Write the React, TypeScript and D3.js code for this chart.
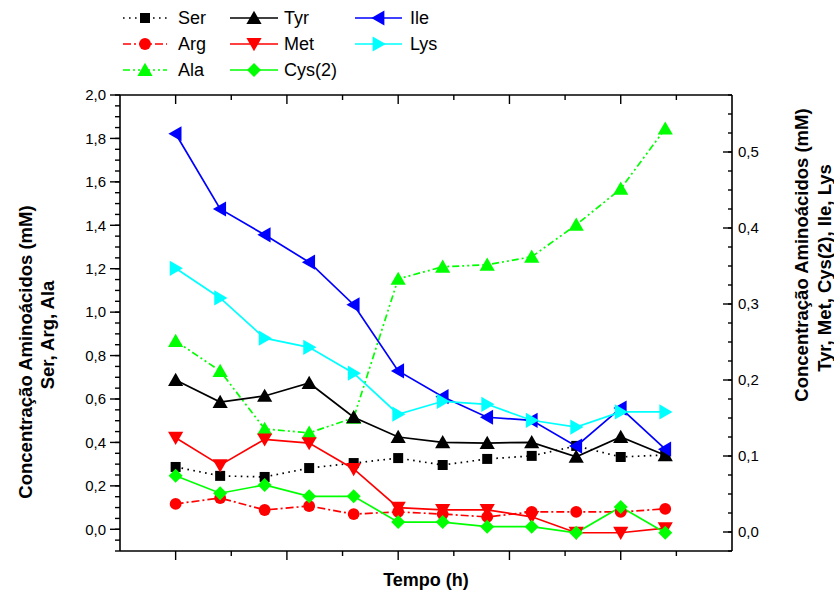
import React from "react";
import * as d3 from "d3";

const times = [0, 4, 8, 12, 16, 20, 24, 28, 32, 36, 40, 44];

// left axis series (Ser, Arg, Ala)
const ser = [0.287, 0.246, 0.241, 0.282, 0.305, 0.328, 0.296, 0.324, 0.338, 0.384, 0.333, 0.342];
const arg = [0.117, 0.144, 0.089, 0.107, 0.07, 0.08, 0.07, 0.057, 0.08, 0.08, 0.08, 0.094];
const ala = [0.867, 0.729, 0.462, 0.444, 0.513, 1.153, 1.209, 1.218, 1.255, 1.402, 1.568, 1.845];

// right axis series (Tyr, Met, Cys(2), Ile, Lys)
const tyr = [0.2, 0.171, 0.179, 0.196, 0.151, 0.125, 0.118, 0.117, 0.118, 0.099, 0.125, 0.101];
const met = [0.124, 0.088, 0.122, 0.117, 0.083, 0.032, 0.029, 0.029, 0.02, -0.001, -0.001, 0.005];
const cys = [0.074, 0.051, 0.062, 0.047, 0.047, 0.013, 0.013, 0.007, 0.007, -0.001, 0.033, -0.001];
const ile = [0.524, 0.425, 0.391, 0.355, 0.299, 0.212, 0.178, 0.151, 0.147, 0.113, 0.163, 0.109];
const lys = [0.347, 0.308, 0.255, 0.243, 0.209, 0.155, 0.172, 0.168, 0.147, 0.138, 0.158, 0.158];

const leftTicks = [0, 0.2, 0.4, 0.6, 0.8, 1.0, 1.2, 1.4, 1.6, 1.8, 2.0];
const rightTicks = [0, 0.1, 0.2, 0.3, 0.4, 0.5];
const xMajor = [0, 10, 20, 30, 40];
const xMinor = [5, 15, 25, 35, 45];

type Marker = "square" | "circle" | "up" | "down" | "left" | "right" | "diamond";
interface Series {
  name: string;
  values: number[];
  axis: "L" | "R";
  color: string;
  dash: string;
  marker: Marker;
}

const seriesList: Series[] = [
  { name: "Ser", values: ser, axis: "L", color: "#000000", dash: "1.6,4.4", marker: "square" },
  { name: "Arg", values: arg, axis: "L", color: "#ff0000", dash: "8,3,2,3", marker: "circle" },
  { name: "Ala", values: ala, axis: "L", color: "#00ff00", dash: "7,3,2,3,2,3", marker: "up" },
  { name: "Tyr", values: tyr, axis: "R", color: "#000000", dash: "", marker: "up" },
  { name: "Met", values: met, axis: "R", color: "#ff0000", dash: "", marker: "down" },
  { name: "Cys(2)", values: cys, axis: "R", color: "#00ff00", dash: "", marker: "diamond" },
  { name: "Ile", values: ile, axis: "R", color: "#0000ff", dash: "", marker: "left" },
  { name: "Lys", values: lys, axis: "R", color: "#00ffff", dash: "", marker: "right" },
];

const legendOrder = [
  ["Ser", "Tyr", "Ile"],
  ["Arg", "Met", "Lys"],
  ["Ala", "Cys(2)"],
];

const W = 834;
const H = 597;
const X0 = 120, X1 = 732, Y0 = 551, Y1 = 95;

const x = d3.scaleLinear().domain([-5, 50]).range([X0, X1]);
const yL = d3.scaleLinear().domain([-0.1, 2.0]).range([Y0, Y1]);
const yR = d3.scaleLinear().domain([-0.025, 0.575]).range([Y0, Y1]);

const fmt = (v: number, d: number) => v.toFixed(d).replace(".", ",");

function markerPath(m: Marker): string {
  const tri = d3.symbol().type(d3.symbolTriangle).size(100)() as string;
  switch (m) {
    case "square":
      return d3.symbol().type(d3.symbolSquare).size(100)() as string;
    case "circle":
      return d3.symbol().type(d3.symbolCircle).size(110)() as string;
    case "diamond": {
      const r = 7;
      return `M0,${-r}L${r},0L0,${r}L${-r},0Z`;
    }
    default:
      return tri;
  }
}
function markerRot(m: Marker): number {
  if (m === "down") return 180;
  if (m === "left") return -90;
  if (m === "right") return 90;
  return 0;
}

function MarkerShape({ m, cx, cy, color }: { m: Marker; cx: number; cy: number; color: string }) {
  const rot = markerRot(m);
  const dy = m === "up" ? 1.5 : m === "down" ? -1.5 : 0;
  const dx = m === "left" ? 1.5 : m === "right" ? -1.5 : 0;
  return (
    <path
      d={markerPath(m)}
      transform={`translate(${cx + dx},${cy + dy}) rotate(${rot})`}
      fill={color}
      stroke="none"
    />
  );
}

export default function App() {
  const font = "Arial, 'Liberation Sans', Helvetica, sans-serif";
  const lineGen = (s: Series) =>
    d3
      .line<number>()
      .x((_, i) => x(times[i]))
      .y((v) => (s.axis === "L" ? yL(v) : yR(v)))(s.values) as string;

  const leftMinor = d3.range(-0.1, 2.0001, 0.05).map((v) => +v.toFixed(3));
  const rightMinor = d3.range(-0.025, 0.5751, 0.025).map((v) => +v.toFixed(4));

  const legendCols = [
    { lx0: 123, lx1: 167, tx: 178 },
    { lx0: 230, lx1: 278, tx: 284 },
    { lx0: 355, lx1: 402, tx: 410 },
  ];
  const legendRows = [18, 44, 70];
  const titleSize = 18.5;

  return (
    <svg
      width={W}
      height={H}
      style={{ position: "absolute", left: 0, top: 0, background: "#fff" }}
      fontFamily={font}
    >
      <rect x={0} y={0} width={W} height={H} fill="#fff" />

      {/* series lines */}
      {seriesList.map((s) => (
        <path
          key={s.name + "-line"}
          d={lineGen(s)}
          fill="none"
          stroke={s.color}
          strokeWidth={1.7}
          strokeDasharray={s.dash || undefined}
        />
      ))}
      {seriesList.map((s) => (
        <g key={s.name + "-marks"}>
          {s.values.map((v, i) => (
            <MarkerShape
              key={i}
              m={s.marker}
              cx={x(times[i])}
              cy={s.axis === "L" ? yL(v) : yR(v)}
              color={s.color}
            />
          ))}
        </g>
      ))}

      {/* frame */}
      <line x1={X0} y1={Y1} x2={X1} y2={Y1} stroke="#000" strokeWidth={1.6} />
      <line x1={X0} y1={Y0} x2={X1} y2={Y0} stroke="#000" strokeWidth={1.6} />
      <line x1={X0} y1={Y1} x2={X0} y2={Y0} stroke="#000" strokeWidth={1.6} />
      <line x1={X1} y1={Y1} x2={X1} y2={Y0} stroke="#000" strokeWidth={1.6} />

      {/* bottom ticks (outward) and top ticks (inward) */}
      {xMajor.map((t) => (
        <g key={"xm" + t}>
          <line x1={x(t)} x2={x(t)} y1={Y0} y2={Y0 + 9} stroke="#000" strokeWidth={1.4} />
          <line x1={x(t)} x2={x(t)} y1={Y1} y2={Y1 + 9} stroke="#000" strokeWidth={1.4} />
        </g>
      ))}
      {xMinor.map((t) => (
        <g key={"xn" + t}>
          <line x1={x(t)} x2={x(t)} y1={Y0} y2={Y0 + 5} stroke="#000" strokeWidth={1.4} />
          <line x1={x(t)} x2={x(t)} y1={Y1} y2={Y1 + 5} stroke="#000" strokeWidth={1.4} />
        </g>
      ))}

      {/* left axis ticks */}
      {leftMinor.map((v) => (
        <line key={"lm" + v} x1={X0 - 5} x2={X0} y1={yL(v)} y2={yL(v)} stroke="#000" strokeWidth={1.4} />
      ))}
      {leftTicks.map((v) => (
        <g key={"lt" + v}>
          <line x1={X0 - 10} x2={X0} y1={yL(v)} y2={yL(v)} stroke="#000" strokeWidth={1.4} />
          <text x={X0 - 14} y={yL(v)} dy="0.35em" textAnchor="end" fontSize={15}>
            {fmt(v, 1)}
          </text>
        </g>
      ))}

      {/* right axis ticks (inward) */}
      {rightMinor.map((v) => (
        <line key={"rm" + v} x1={X1 - 4} x2={X1} y1={yR(v)} y2={yR(v)} stroke="#000" strokeWidth={1.4} />
      ))}
      {rightTicks.map((v) => (
        <g key={"rt" + v}>
          <line x1={X1 - 9} x2={X1} y1={yR(v)} y2={yR(v)} stroke="#000" strokeWidth={1.4} />
          <text x={X1 + 6} y={yR(v)} dy="0.35em" textAnchor="start" fontSize={15}>
            {fmt(v, 1)}
          </text>
        </g>
      ))}

      {/* axis titles */}
      <text x={426} y={586} textAnchor="middle" fontSize={18} fontWeight="bold">
        Tempo (h)
      </text>
      <g transform={`translate(32,352) rotate(-90)`}>
        <text textAnchor="middle" fontSize={titleSize} fontWeight="bold">
          Concentração Aminoácidos (mM)
        </text>
      </g>
      <g transform={`translate(54,335) rotate(-90)`}>
        <text textAnchor="middle" fontSize={titleSize} fontWeight="bold">
          Ser, Arg, Ala
        </text>
      </g>
      <g transform={`translate(808,255) rotate(-90)`}>
        <text textAnchor="middle" fontSize={titleSize} fontWeight="bold">
          Concentração Aminoácidos (mM)
        </text>
      </g>
      <g transform={`translate(831,268) rotate(-90)`}>
        <text textAnchor="middle" fontSize={titleSize} fontWeight="bold">
          Tyr, Met, Cys(2), Ile, Lys
        </text>
      </g>

      {/* legend */}
      {legendOrder.map((row, ri) =>
        row.map((name, ci) => {
          const s = seriesList.find((q) => q.name === name)!;
          const c = legendCols[ci];
          const ly = legendRows[ri];
          return (
            <g key={"lg" + name}>
              <line
                x1={c.lx0}
                x2={c.lx1}
                y1={ly}
                y2={ly}
                stroke={s.color}
                strokeWidth={1.7}
                strokeDasharray={s.dash || undefined}
              />
              <MarkerShape m={s.marker} cx={(c.lx0 + c.lx1) / 2} cy={ly} color={s.color} />
              <text x={c.tx} y={ly} dy="0.36em" fontSize={18}>
                {name}
              </text>
            </g>
          );
        })
      )}
    </svg>
  );
}
